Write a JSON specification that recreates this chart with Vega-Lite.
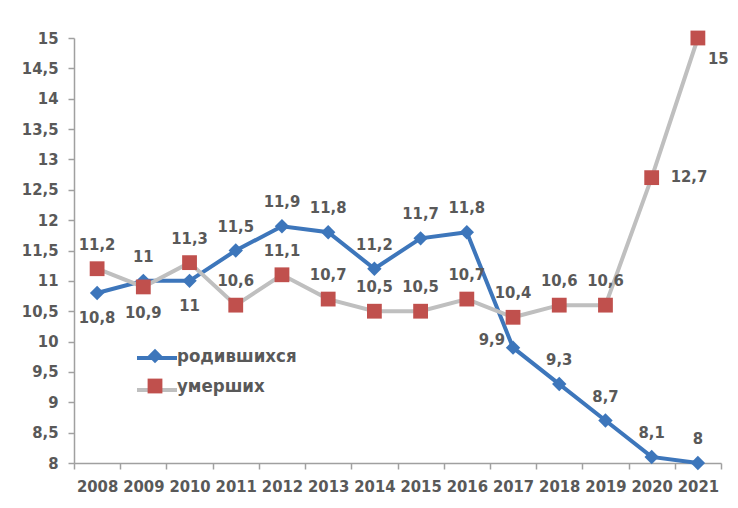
{
  "$schema": "https://vega.github.io/schema/vega-lite/v6.json",
  "width": 647,
  "height": 425,
  "autosize": "none",
  "padding": {"left": 74, "top": 38, "right": 17, "bottom": 45},
  "config": {
    "locale": {"number": {"decimal": ",", "thousands": " ", "grouping": [3], "currency": ["", " ₽"]}},
    "view": {"stroke": null},
    "font": "Liberation Sans Narrow, DejaVu Sans Condensed, Liberation Sans",
    "axis": {
      "labelFont": "Liberation Sans Narrow, DejaVu Sans Condensed, Liberation Sans",
      "labelFontSize": 16.5,
      "labelFontWeight": "bold",
      "labelColor": "#595959",
      "domainColor": "#A0A0A0",
      "domainWidth": 1.5,
      "tickColor": "#A0A0A0",
      "tickWidth": 1.5,
      "grid": false,
      "title": null
    },
    "legend": {
      "labelFont": "Liberation Sans Narrow, DejaVu Sans Condensed, Liberation Sans",
      "labelFontSize": 18.5,
      "labelFontWeight": "bold",
      "labelColor": "#595959"
    }
  },
  "data": {
    "values": [
      {"year": "2008", "series": "родившихся", "value": 10.8},
      {"year": "2009", "series": "родившихся", "value": 11.0},
      {"year": "2010", "series": "родившихся", "value": 11.0},
      {"year": "2011", "series": "родившихся", "value": 11.5},
      {"year": "2012", "series": "родившихся", "value": 11.9},
      {"year": "2013", "series": "родившихся", "value": 11.8},
      {"year": "2014", "series": "родившихся", "value": 11.2},
      {"year": "2015", "series": "родившихся", "value": 11.7},
      {"year": "2016", "series": "родившихся", "value": 11.8},
      {"year": "2017", "series": "родившихся", "value": 9.9},
      {"year": "2018", "series": "родившихся", "value": 9.3},
      {"year": "2019", "series": "родившихся", "value": 8.7},
      {"year": "2020", "series": "родившихся", "value": 8.1},
      {"year": "2021", "series": "родившихся", "value": 8.0},
      {"year": "2008", "series": "умерших", "value": 11.2},
      {"year": "2009", "series": "умерших", "value": 10.9},
      {"year": "2010", "series": "умерших", "value": 11.3},
      {"year": "2011", "series": "умерших", "value": 10.6},
      {"year": "2012", "series": "умерших", "value": 11.1},
      {"year": "2013", "series": "умерших", "value": 10.7},
      {"year": "2014", "series": "умерших", "value": 10.5},
      {"year": "2015", "series": "умерших", "value": 10.5},
      {"year": "2016", "series": "умерших", "value": 10.7},
      {"year": "2017", "series": "умерших", "value": 10.4},
      {"year": "2018", "series": "умерших", "value": 10.6},
      {"year": "2019", "series": "умерших", "value": 10.6},
      {"year": "2020", "series": "умерших", "value": 12.7},
      {"year": "2021", "series": "умерших", "value": 15.0}
    ]
  },
  "encoding": {
    "x": {
      "field": "year",
      "type": "ordinal",
      "bandPosition": 0.5,
      "scale": {"type": "band", "paddingInner": 0, "paddingOuter": 0},
      "axis": {
        "labelAngle": 0,
        "tickBand": "extent",
        "tickSize": 6,
        "labelPadding": 9
      }
    },
    "y": {
      "field": "value",
      "type": "quantitative",
      "scale": {"domain": [8, 15], "nice": false, "zero": false},
      "axis": {
        "values": [8, 8.5, 9, 9.5, 10, 10.5, 11, 11.5, 12, 12.5, 13, 13.5, 14, 14.5, 15],
        "format": ".1~f",
        "tickSize": 6,
        "labelPadding": 10
      }
    }
  },
  "layer": [
    {
      "mark": {"type": "line", "strokeWidth": 4, "clip": false},
      "encoding": {
        "color": {
          "field": "series",
          "type": "nominal",
          "scale": {"range": ["#3D76BB", "#BFBFBF"]},
          "legend": {
            "orient": "none",
            "legendX": 61,
            "legendY": 298,
            "title": null,
            "symbolType": "stroke",
            "symbolSize": 1600,
            "symbolStrokeWidth": 4,
            "labelOffset": 2,
            "padding": 0,
            "rowPadding": 0,
            "labelOpacity": 0
          }
        }
      }
    },
    {
      "mark": {"type": "point", "filled": true, "size": 1600, "opacity": 1, "clip": false},
      "encoding": {
        "fill": {
          "field": "series",
          "type": "nominal",
          "scale": {"domain": ["родившихся", "умерших"], "range": ["#3D76BB", "#C0504D"]},
          "legend": {
            "orient": "none",
            "legendX": 61,
            "legendY": 298,
            "title": null,
            "symbolSize": 1600,
            "symbolStrokeWidth": 0,
            "labelOffset": 2,
            "padding": 0,
            "rowPadding": 0
          }
        },
        "shape": {
          "field": "series",
          "type": "nominal",
          "scale": {
            "domain": ["родившихся", "умерших"],
            "range": ["M0,-0.36L0.36,0L0,0.36L-0.36,0Z", "M-0.37,-0.37H0.37V0.37H-0.37Z"]
          }
        }
      }
    },
    {
      "transform": [{"filter": "datum.series === 'родившихся' && indexof(['2008','2010','2017'], datum.year) < 0"}],
      "mark": {"type": "text", "dy": -24, "fontSize": 16.5, "fontWeight": "bold", "color": "#595959", "baseline": "middle"},
      "encoding": {"text": {"field": "value", "type": "quantitative", "format": ".1~f"}}
    },
    {
      "transform": [{"filter": "datum.series === 'родившихся' && indexof(['2008','2010'], datum.year) >= 0"}],
      "mark": {"type": "text", "dy": 25, "fontSize": 16.5, "fontWeight": "bold", "color": "#595959", "baseline": "middle"},
      "encoding": {"text": {"field": "value", "type": "quantitative", "format": ".1~f"}}
    },
    {
      "transform": [{"filter": "datum.series === 'родившихся' && datum.year === '2017'"}],
      "mark": {"type": "text", "dx": -8, "dy": -8, "align": "right", "fontSize": 16.5, "fontWeight": "bold", "color": "#595959", "baseline": "middle"},
      "encoding": {"text": {"field": "value", "type": "quantitative", "format": ".1~f"}}
    },
    {
      "transform": [{"filter": "datum.series === 'умерших' && indexof(['2009','2020','2021'], datum.year) < 0"}],
      "mark": {"type": "text", "dy": -24, "fontSize": 16.5, "fontWeight": "bold", "color": "#595959", "baseline": "middle"},
      "encoding": {"text": {"field": "value", "type": "quantitative", "format": ".1~f"}}
    },
    {
      "transform": [{"filter": "datum.series === 'умерших' && datum.year === '2009'"}],
      "mark": {"type": "text", "dy": 26, "fontSize": 16.5, "fontWeight": "bold", "color": "#595959", "baseline": "middle"},
      "encoding": {"text": {"field": "value", "type": "quantitative", "format": ".1~f"}}
    },
    {
      "transform": [{"filter": "datum.series === 'умерших' && datum.year === '2020'"}],
      "mark": {"type": "text", "dx": 19, "dy": -1, "align": "left", "fontSize": 16.5, "fontWeight": "bold", "color": "#595959", "baseline": "middle"},
      "encoding": {"text": {"field": "value", "type": "quantitative", "format": ".1~f"}}
    },
    {
      "transform": [{"filter": "datum.series === 'умерших' && datum.year === '2021'"}],
      "mark": {"type": "text", "dx": 10, "dy": 21, "align": "left", "fontSize": 16.5, "fontWeight": "bold", "color": "#595959", "baseline": "middle"},
      "encoding": {"text": {"field": "value", "type": "quantitative", "format": ".1~f"}}
    }
  ]
}
